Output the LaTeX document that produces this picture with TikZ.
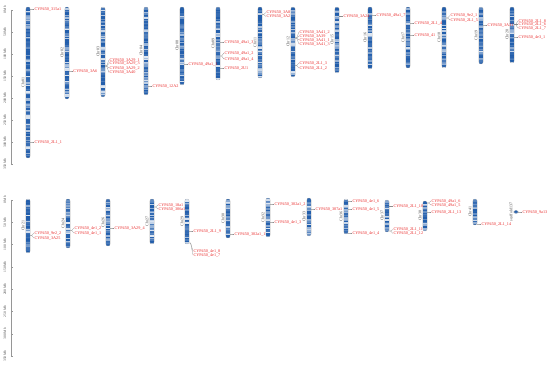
\documentclass[tikz,border=0pt]{standalone}
\usepackage{fontspec}
\setmainfont{Liberation Serif}
\usetikzlibrary{positioning}
\definecolor{cypred}{RGB}{232,42,42}
\definecolor{chrblue}{RGB}{32,92,170}
\definecolor{axisgray}{RGB}{150,150,150}

\begin{document}
\begin{tikzpicture}[
  x=1pt, y=-1pt,
  genelab/.style={font=\fontsize{4.2}{4.2}\selectfont, text=cypred, inner sep=0.3pt, anchor=west},
  chrlab/.style={font=\fontsize{4}{4}\selectfont, text=black!75, rotate=90, inner sep=0.5pt},
  axislab/.style={font=\fontsize{3.6}{3.6}\selectfont, text=black!70, rotate=90, inner sep=0.5pt},
  axisline/.style={draw=axisgray, line width=0.8pt},
  link/.style={draw=black!45, line width=0.25pt},
  chrbody/.style={draw=black!30, line width=0.2pt, rounded corners=2pt}
]
\useasboundingbox (0,0) rectangle (550,366);
\pgfmathsetseed{42}

% Scale bars
\draw[axisline] (11,10) -- (11,164);
\foreach \m in {0,50,...,350}{
  \draw[axisline, line width=0.5pt] (11,10+\m*0.44) -- (13,10+\m*0.44);
  \node[axislab] (ta\m) at (5,10+\m*0.44) {\m~Mb};
}
\draw[axisline] (11,200) -- (11,356);
\foreach \m in {0,50,...,350}{
  \draw[axisline, line width=0.5pt] (11,200+\m*0.446) -- (13,200+\m*0.446);
  \node[axislab] (tb\m) at (5,200+\m*0.446) {\m~Mb};
}

% Chromosomes
\foreach \cname/\cx/\ctop/\cbot in {
  Chr01/28/7/158, Chr02/67/7/99, Chr03/103/7/97, Chr04/146/7/95,
  Chr08/182/7/85, Chr09/218/7/80, Chr11/260/7/78, Chr12/293/7/77,
  Chr15/337/7/73, Chr16/370/7/69, Chr17/408/7/68, Chr18/444/7/68,
  Chr19/481/7/64, Chr20/512/7/63,
  Chr21/28/199/253, Chr24/68/199/248, Chr26/108/199/246, Chr27/152/199/244,
  Chr29/187/199/244, Chr30/228/199/238, Chr32/268/198/237, Chr33/309/198/236,
  Chr36/346/199/234, Chr37/387/200/232, Chr38/425/201/231, Chr41/475/199/225,
  scaffold137/516/210.5/213.5}{
  \begin{scope}
    \clip[rounded corners=2pt] (\cx-2.2,\ctop) rectangle (\cx+2.2,\cbot);
    \fill[chrblue] (\cx-2.2,\ctop) rectangle (\cx+2.2,\cbot);
    \pgfmathsetmacro\cnext{\ctop+1.3}
    \foreach \yy in {\ctop,\cnext,...,\cbot}{
      \pgfmathsetmacro\shd{int(100-85*rnd^2.2)}
      \fill[chrblue!\shd!white] (\cx-2.2,\yy) rectangle (\cx+2.2,\yy+1.35);
    }
  \end{scope}
  \draw[chrbody] (\cx-2.2,\ctop) rectangle (\cx+2.2,\cbot);
  \node[chrlab] (\cname) at (\cx-5,{(\ctop+\cbot)/2}) {\cname};
}

% Gene labels
\foreach \cx/\yc/\yl/\txt [count=\i] in {
  28/9/9/315a1, 28/142/142/2L1\_1,
  67/71/71/3A6,
  103/66/60/3A29\_1, 103/66/63.5/3A29\_3, 103/66/68/3A29\_2, 103/66/72.5/3A40,
  146/86/86/12A2,
  182/64/64/49a1\_1,
  218/42/42/49a1\_3, 218/56/53/49a1\_2, 218/56/59/49a1\_4, 218/68/68/2U1,
  260/14.5/12.5/3A8, 260/14.5/16.5/3A2,
  293/38/32/3A41\_2, 293/38/36/3A39, 293/38/40/3A41\_1, 293/38/44/3A41\_3,
  293/65.5/63/2L1\_3, 293/65.5/68/2L1\_2,
  337/16.5/16.5/3A24,
  370/15/15/49a1\_7,
  408/23/23/2L1\_4, 408/35/35/41,
  444/18/15.5/9e2\_1, 444/18/20/2L1\_5,
  481/25/25/3A31,
  512/24.5/21/2L1\_8, 512/24.5/24.5/2L1\_6, 512/24.5/28/2L1\_7, 512/37/37/4e3\_1,
  28/235.5/233/9e2\_2, 28/235.5/238/3A25,
  68/230.5/228/4e1\_2, 68/230.5/233/4e1\_1,
  108/228/228/3A29\_4,
  152/207/205/18a1, 152/207/209/306a1,
  187/231/231/2L1\_9, 187/243/251/4e1\_8, 187/243/255/4e1\_7,
  228/234/234/302a1\_1,
  268/204/204/302a1\_2, 268/222/222/4e1\_3,
  309/209/209/307a1,
  346/201/201/4e1\_6, 346/209/209/4e1\_5, 346/233/233/4e1\_4,
  387/206.5/206.5/2L1\_10, 387/231/229.5/2L1\_11, 387/231/233.5/2L1\_12,
  425/203/201/49a1\_6, 425/203/205/49a1\_5, 425/212/212/2L1\_13,
  475/224/224/2L1\_14,
  516/212/212/9a13}{
  \coordinate (p\i) at (\cx+2.2,\yc);
  \node[genelab] (g\i) at (\cx+6,\yl) {CYP450\_\txt};
  \draw[link] (p\i) -- ++(1.4,0) -- (g\i.west);
}
\end{tikzpicture}
\end{document}
